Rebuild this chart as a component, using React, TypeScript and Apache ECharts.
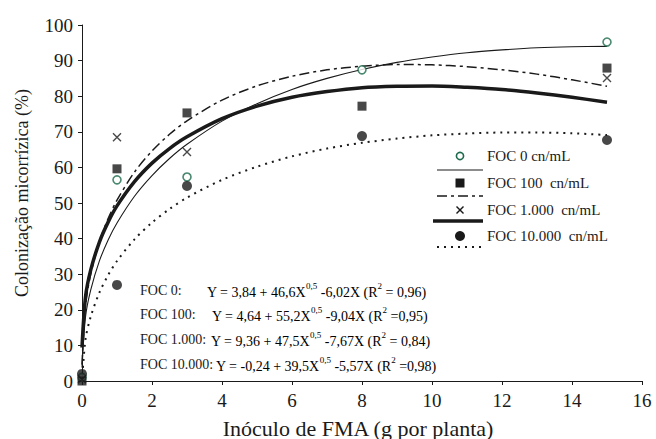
import React, { useEffect, useRef } from "react";
import * as echarts from "echarts";

// Observed points (x = inoculum g per plant)
const doseX = [0, 1, 3, 8, 15];
const foc0Obs = [1, 56.5, 57.3, 87.4, 95.2];
const foc100Obs = [0, 59.6, 75.3, 77.2, 87.9];
const foc1000X = [0, 1, 3, 15];
const foc1000Obs = [0.5, 68.5, 64.3, 85.1];
const foc10000Obs = [2, 27, 54.8, 68.8, 67.7];

// Fitted curves, values
const curveX = [0, 0.1, 0.25, 0.5, 0.75, 1, 1.5, 2, 2.5, 3, 4, 5, 6, 7, 8, 9, 10, 11, 12, 13, 14, 15];
const foc0Fit = [3.8, 18.0, 25.6, 33.8, 39.7, 44.4, 51.9, 57.7, 62.5, 66.5, 73.0, 77.9, 81.9, 85.0, 87.5, 89.5, 91.0, 92.2, 93.0, 93.6, 93.9, 94.0];
const foc100Fit = [4.6, 21.2, 30.0, 39.2, 45.7, 50.8, 58.7, 64.6, 69.3, 73.1, 78.9, 82.9, 85.6, 87.4, 88.4, 88.9, 88.8, 88.3, 87.4, 86.2, 84.6, 82.8];
const foc1000Fit = [9.4, 23.6, 31.2, 39.1, 44.7, 49.2, 56.0, 61.2, 65.3, 68.6, 73.7, 77.2, 79.7, 81.3, 82.4, 82.8, 82.9, 82.5, 81.9, 80.9, 79.7, 78.3];
const foc10000Fit = [-0.2, 11.7, 18.1, 24.9, 29.8, 33.7, 39.8, 44.5, 48.3, 51.5, 56.5, 60.2, 63.1, 65.3, 66.9, 68.1, 69.0, 69.5, 69.8, 69.8, 69.6, 69.1];

const xAxisTitle = "Inóculo de FMA (g por planta)";
const yAxisTitle = "Colonização micorrízica (%)";
const legendLabels = ["FOC 0 cn/mL", "FOC 100  cn/mL", "FOC 1.000  cn/mL", "FOC 10.000  cn/mL"];
const eqLabels = ["FOC 0:", "FOC 100:", "FOC 1.000:", "FOC 10.000:"];
const eqParts = [
  ["Y = 3,84 + 46,6X", "0,5", " -6,02X (R", "2", " = 0,96)"],
  ["Y = 4,64 + 55,2X", "0,5", " -9,04X (R", "2", " =0,95)"],
  ["Y = 9,36 + 47,5X", "0,5", " -7,67X (R", "2", " = 0,84)"],
  ["Y = -0,24 + 39,5X", "0,5", " -5,57X (R", "2", " =0,98)"],
];

const FONT = "Liberation Serif";
const INK = "#1a1a1a";
const GREEN = "#1d6b4c";

const pairs = (xs: number[], ys: number[]) => xs.map((x, i) => [x, ys[i]]);

export default function App() {
  const ref = useRef<HTMLDivElement>(null);
  useEffect(() => {
    if (!ref.current) return;
    const chart = echarts.init(ref.current, undefined, { renderer: "svg" });

    const lineStyles: any[] = [
      { color: INK, width: 1.1, type: "solid" },
      { color: INK, width: 1.5, type: [10, 4, 3, 4] },
      { color: INK, width: 3.5, type: "solid" },
      { color: INK, width: 2, type: [2, 5] },
    ];
    const fits = [foc0Fit, foc100Fit, foc1000Fit, foc10000Fit];

    const lineSeries = fits.map((f, i) => ({
      type: "line",
      data: pairs(curveX, f),
      smooth: 0.3,
      showSymbol: false,
      symbol: "none",
      lineStyle: lineStyles[i],
      z: 2,
      silent: true,
    }));

    const scatterSeries: any[] = [
      {
        type: "scatter",
        data: pairs(doseX, foc0Obs),
        symbol: "circle",
        symbolSize: 8,
        itemStyle: { color: "#ffffff", borderColor: GREEN, borderWidth: 1.6 },
        z: 3,
      },
      {
        type: "scatter",
        data: pairs(doseX, foc100Obs),
        symbol: "rect",
        symbolSize: 9,
        itemStyle: { color: INK },
        z: 4,
      },
      {
        type: "scatter",
        data: pairs(foc1000X, foc1000Obs),
        symbol: "path://M0,0L10,10M10,0L0,10",
        symbolSize: 8,
        itemStyle: { color: "none", borderColor: INK, borderWidth: 1.4 },
        z: 4,
      },
      {
        type: "scatter",
        data: pairs(doseX, foc10000Obs),
        symbol: "circle",
        symbolSize: 10,
        itemStyle: { color: INK },
        z: 4,
      },
    ];

    // Legend (custom layout: marker row, line sample below)
    const lx = 460;
    const tx = 487;
    const rowsY = [156, 183, 210, 236];
    const lineY = [170, 196, 221, 247];
    const legendGraphics: any[] = [];
    legendGraphics.push({
      type: "circle",
      shape: { cx: lx, cy: rowsY[0], r: 3.6 },
      style: { fill: "#fff", stroke: GREEN, lineWidth: 1.6 },
    });
    legendGraphics.push({
      type: "rect",
      shape: { x: lx - 4.5, y: rowsY[1] - 4.5, width: 9, height: 9 },
      style: { fill: INK },
    });
    legendGraphics.push({
      type: "line",
      shape: { x1: lx - 3.5, y1: rowsY[2] - 3.5, x2: lx + 3.5, y2: rowsY[2] + 3.5 },
      style: { stroke: INK, lineWidth: 1.4 },
    });
    legendGraphics.push({
      type: "line",
      shape: { x1: lx + 3.5, y1: rowsY[2] - 3.5, x2: lx - 3.5, y2: rowsY[2] + 3.5 },
      style: { stroke: INK, lineWidth: 1.4 },
    });
    legendGraphics.push({
      type: "circle",
      shape: { cx: lx, cy: rowsY[3], r: 5 },
      style: { fill: INK },
    });
    const sampleStyles: any[] = [
      { stroke: INK, lineWidth: 1.1 },
      { stroke: INK, lineWidth: 1.5, lineDash: [10, 4, 3, 4] },
      { stroke: INK, lineWidth: 3.5 },
      { stroke: INK, lineWidth: 2, lineDash: [2, 5] },
    ];
    lineY.forEach((y, i) => {
      legendGraphics.push({
        type: "line",
        shape: { x1: i === 2 ? 433 : 437, y1: y, x2: 483, y2: y },
        style: sampleStyles[i],
      });
    });
    legendLabels.forEach((t, i) => {
      legendGraphics.push({
        type: "text",
        x: tx,
        y: rowsY[i],
        style: {
          text: t,
          fontFamily: FONT,
          fontSize: 15,
          fill: INK,
          verticalAlign: "middle",
          align: "left",
        },
      });
    });

    // Equations
    const eqY = [290, 314, 339, 364];
    const eqX = [207, 212, 211, 216];
    const eqGraphics: any[] = [];
    eqLabels.forEach((t, i) => {
      eqGraphics.push({
        type: "text",
        x: 140,
        y: eqY[i],
        style: { text: t, fontFamily: FONT, fontSize: 14, fill: INK, verticalAlign: "middle" },
      });
      const p = eqParts[i];
      eqGraphics.push({
        type: "text",
        x: eqX[i],
        y: eqY[i],
        style: {
          text: `{m|${p[0]}}{s|${p[1]}}{m|${p[2]}}{s|${p[3]}}{m|${p[4]}}`,
          verticalAlign: "middle",
          rich: {
            m: { fontFamily: FONT, fontSize: 14, color: INK, lineHeight: 18, verticalAlign: "bottom" },
            s: { fontFamily: FONT, fontSize: 9, color: INK, lineHeight: 18, verticalAlign: "top" },
          },
        },
      });
    });

    const titleGraphics: any[] = [
      {
        type: "text",
        x: 358,
        y: 428,
        style: {
          text: xAxisTitle,
          fontFamily: FONT,
          fontSize: 22,
          fill: INK,
          align: "center",
          verticalAlign: "middle",
        },
      },
      {
        type: "text",
        x: 22,
        y: 193,
        rotation: Math.PI / 2,
        style: {
          text: yAxisTitle,
          fontFamily: FONT,
          fontSize: 18,
          fill: INK,
          align: "center",
          verticalAlign: "middle",
        },
      },
    ];

    chart.setOption({
      animation: false,
      backgroundColor: "#ffffff",
      textStyle: { fontFamily: FONT },
      grid: { left: 82, right: 14, top: 25, bottom: 58, containLabel: false },
      xAxis: {
        type: "value",
        min: 0,
        max: 16,
        interval: 2,
        axisLine: { show: true, onZero: false, lineStyle: { color: INK, width: 1 } },
        axisTick: { show: true, inside: false, length: 4, lineStyle: { color: INK } },
        axisLabel: { fontFamily: FONT, fontSize: 19, color: INK, margin: 10 },
        splitLine: { show: false },
      },
      yAxis: {
        type: "value",
        min: 0,
        max: 100,
        interval: 10,
        axisLine: { show: true, lineStyle: { color: INK, width: 1 } },
        axisTick: { show: true, inside: false, length: 4, lineStyle: { color: INK } },
        axisLabel: { fontFamily: FONT, fontSize: 19, color: INK, margin: 9 },
        splitLine: { show: false },
      },
      series: [...lineSeries, ...scatterSeries],
      graphic: [...legendGraphics, ...eqGraphics, ...titleGraphics],
    });

    return () => chart.dispose();
  }, []);

  return <div ref={ref} style={{ width: 656, height: 439, position: "absolute", left: 0, top: 0 }} />;
}
